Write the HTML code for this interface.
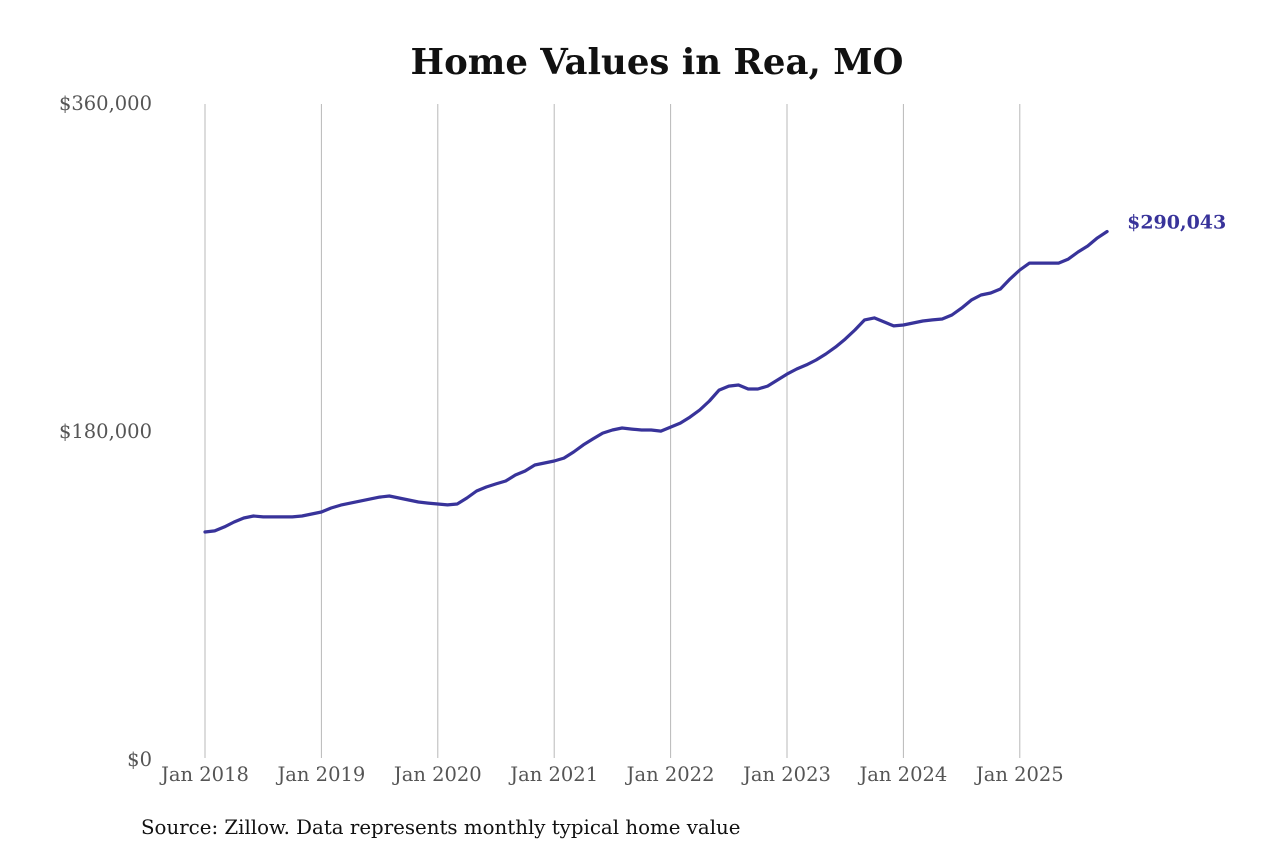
<!DOCTYPE html>
<html><head><meta charset="utf-8"><style>
body{margin:0;background:#fff;width:1280px;height:853px;overflow:hidden}
svg{display:block}
text{font-family:"DejaVu Serif","Liberation Serif",serif}
</style></head><body>
<svg id="c" width="1280" height="853">
<text x="657" y="74" text-anchor="middle" font-size="35.5" font-weight="bold" fill="#111">Home Values in Rea, MO</text>
<g id="grid"></g>
<g id="yax"></g>
<g id="xax"></g>
<path id="line" fill="none" stroke="#38339a" stroke-width="3.2" stroke-linejoin="round" stroke-linecap="round"/>
<text id="endlabel" font-size="19" font-weight="bold" fill="#38339a"></text>
<text x="141" y="834" font-size="19.8" fill="#111">Source: Zillow. Data represents monthly typical home value</text>
</svg>
<script>
const values = [125.1,125.7,127.9,130.6,132.8,133.9,133.4,133.4,133.4,133.4,133.9,135.0,
136.1,138.3,139.9,141.0,142.1,143.2,144.3,144.9,143.8,142.7,141.6,141.0,
140.5,140.0,140.5,143.8,147.6,149.8,151.5,153.1,156.4,158.6,161.9,163.0,
164.1,165.7,169.0,172.9,176.2,179.4,181.1,182.2,181.6,181.1,181.1,180.5,
182.7,184.9,188.2,192.1,197.0,203.0,205.2,205.8,203.6,203.6,205.2,208.5,
211.8,214.6,216.8,219.5,222.8,226.6,231.0,236.0,241.5,242.6,240.4,238.2,
238.7,239.8,240.9,241.5,242.0,244.2,248.0,252.4,255.2,256.3,258.5,264.0,
268.9,272.7,272.7,272.7,272.7,274.9,278.8,282.1,286.5,290.043];
const startYear = 2018;
const yearLabels = ["Jan 2018","Jan 2019","Jan 2020","Jan 2021","Jan 2022","Jan 2023","Jan 2024","Jan 2025"];
const yTicks = [0,180,360];
const yTickLabels = ["$0","$180,000","$360,000"];
const lastLabel = "$290,043";

const NS="http://www.w3.org/2000/svg";
const x0=205, perYear=116.4, yBase=760, yTop=104, yMax=360;
const xs=i=>x0+i*perYear/12;
const ys=v=>yBase-(v/yMax)*(yBase-yTop);
const grid=document.getElementById('grid'), xax=document.getElementById('xax'), yax=document.getElementById('yax');
yearLabels.forEach((l,k)=>{
  const x=xs(k*12);
  const ln=document.createElementNS(NS,'line');
  
  
  ln.setAttribute('x1',x);ln.setAttribute('x2',x);ln.setAttribute('y1',yTop);ln.setAttribute('y2',758);
  ln.setAttribute('stroke','#b8b8b8');ln.setAttribute('stroke-width','1');
  grid.appendChild(ln);
  const t=document.createElementNS(NS,'text');
  
  
  t.setAttribute('x',x);t.setAttribute('y',781);t.setAttribute('text-anchor','middle');
  t.setAttribute('font-size','19.5');t.setAttribute('fill','#555');t.textContent=l;
  xax.appendChild(t);
});
yTicks.forEach((v,k)=>{
  const t=document.createElementNS(NS,'text');
  
  
  t.setAttribute('x',152);t.setAttribute('y',ys(v)+6);t.setAttribute('text-anchor','end');
  t.setAttribute('font-size','19.5');t.setAttribute('fill','#555');t.textContent=yTickLabels[k];
  yax.appendChild(t);
});
let d='';
values.forEach((v,i)=>{d+=(i?'L':'M')+xs(i).toFixed(1)+','+ys(v).toFixed(1);});
document.getElementById('line').setAttribute('d',d);
const li=values.length-1, el=document.getElementById('endlabel');
el.setAttribute('x',xs(li)+20);el.setAttribute('y',ys(values[li])-3);el.textContent=lastLabel;
</script>
</body></html>
